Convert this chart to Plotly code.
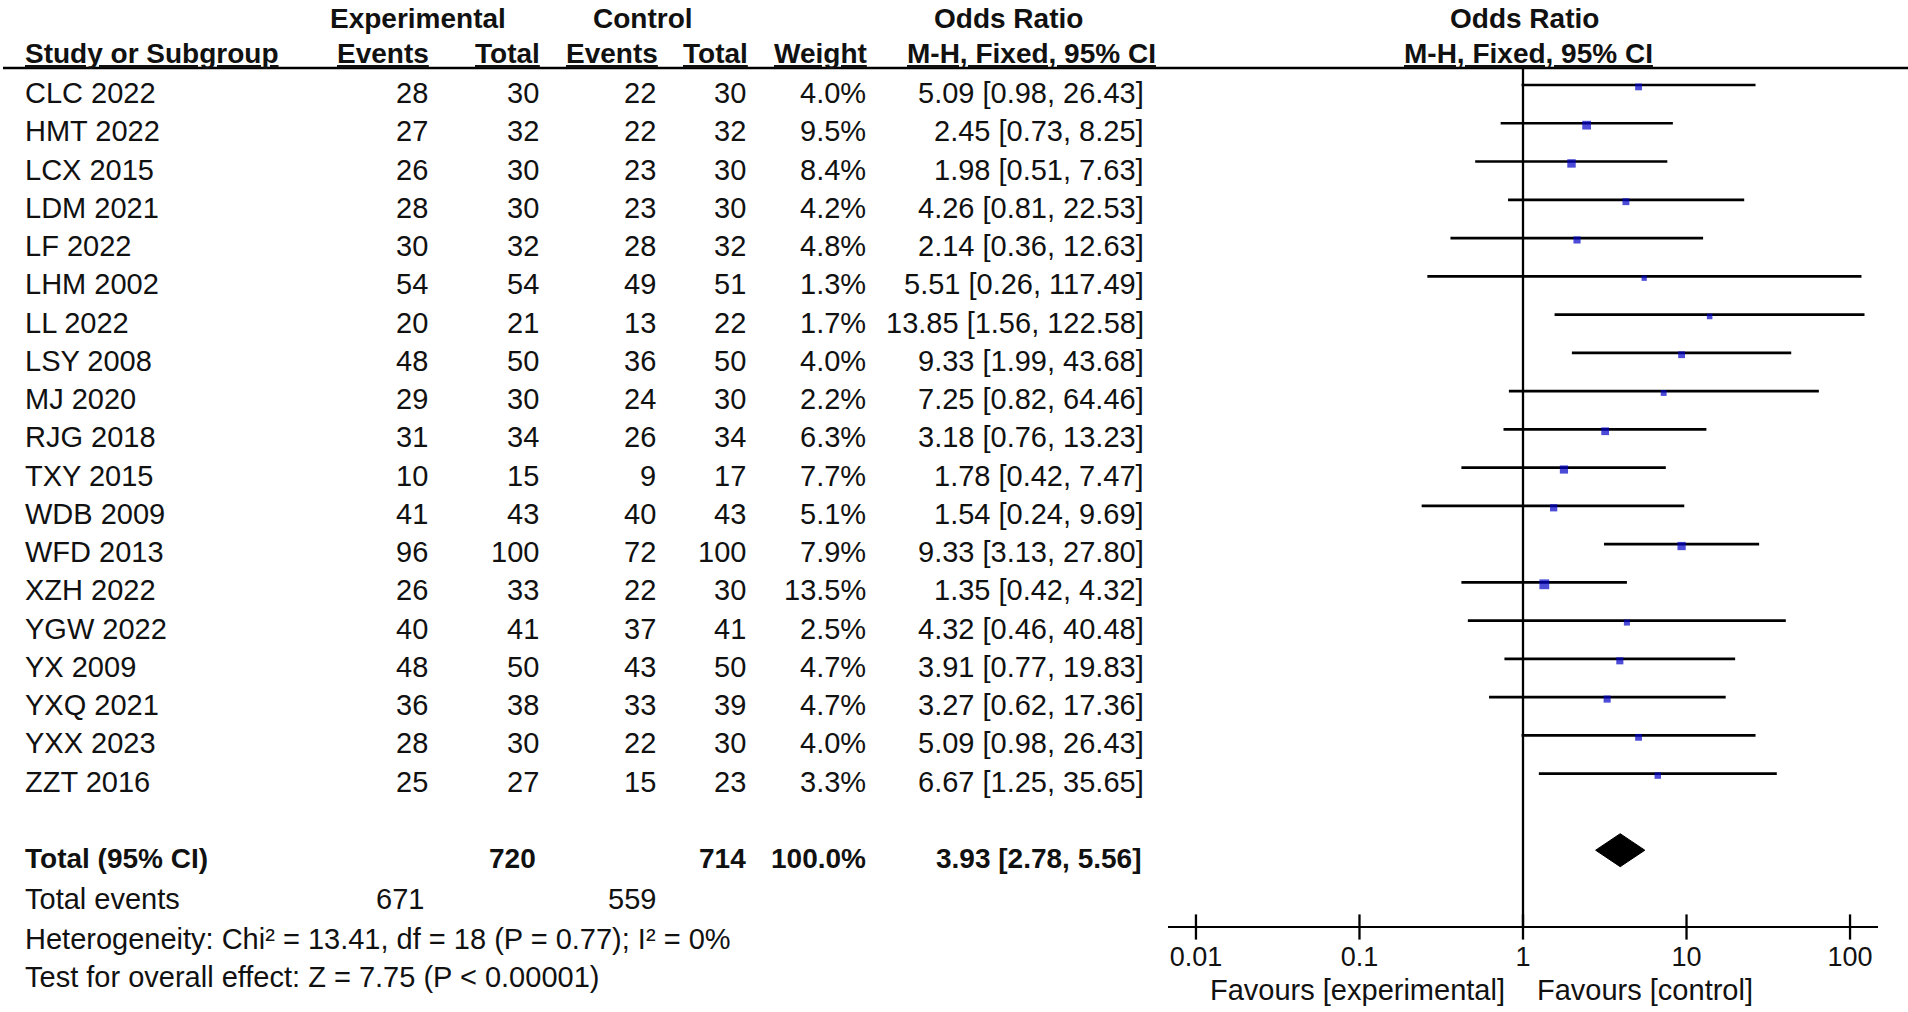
import plotly.graph_objects as go
import math

# ---------------- data ----------------
studies = ["CLC 2022", "HMT 2022", "LCX 2015", "LDM 2021", "LF 2022", "LHM 2002", "LL 2022",
           "LSY 2008", "MJ 2020", "RJG 2018", "TXY 2015", "WDB 2009", "WFD 2013", "XZH 2022",
           "YGW 2022", "YX 2009", "YXQ 2021", "YXX 2023", "ZZT 2016"]
exp_events = [28, 27, 26, 28, 30, 54, 20, 48, 29, 31, 10, 41, 96, 26, 40, 48, 36, 28, 25]
exp_total = [30, 32, 30, 30, 32, 54, 21, 50, 30, 34, 15, 43, 100, 33, 41, 50, 38, 30, 27]
ctrl_events = [22, 22, 23, 23, 28, 49, 13, 36, 24, 26, 9, 40, 72, 22, 37, 43, 33, 22, 15]
ctrl_total = [30, 32, 30, 30, 32, 51, 22, 50, 30, 34, 17, 43, 100, 30, 41, 50, 39, 30, 23]
weights = [4.0, 9.5, 8.4, 4.2, 4.8, 1.3, 1.7, 4.0, 2.2, 6.3, 7.7, 5.1, 7.9, 13.5, 2.5, 4.7, 4.7, 4.0, 3.3]
odds = [5.09, 2.45, 1.98, 4.26, 2.14, 5.51, 13.85, 9.33, 7.25, 3.18, 1.78, 1.54, 9.33, 1.35, 4.32,
        3.91, 3.27, 5.09, 6.67]
ci_low = [0.98, 0.73, 0.51, 0.81, 0.36, 0.26, 1.56, 1.99, 0.82, 0.76, 0.42, 0.24, 3.13, 0.42, 0.46,
          0.77, 0.62, 0.98, 1.25]
ci_high = [26.43, 8.25, 7.63, 22.53, 12.63, 117.49, 122.58, 43.68, 64.46, 13.23, 7.47, 9.69, 27.80,
           4.32, 40.48, 19.83, 17.36, 26.43, 35.65]

total_exp = 720
total_ctrl = 714
total_weight = 100.0
total_or = 3.93
total_low = 2.78
total_high = 5.56
total_exp_events = 671
total_ctrl_events = 559
heterogeneity = "Heterogeneity: Chi² = 13.41, df = 18 (P = 0.77); I² = 0%"
overall = "Test for overall effect: Z = 7.75 (P < 0.00001)"
tick_vals = [0.01, 0.1, 1, 10, 100]
tick_text = ["0.01", "0.1", "1", "10", "100"]
favours_left = "Favours [experimental]"
favours_right = "Favours [control]"

# ---------------- layout helpers ----------------
W, H = 1908, 1012
ROW0, ROWH = 85.0, 38.26
FONT = "Liberation Sans, Arial, Helvetica, sans-serif"
FS = 29
FSB = 28


def ypx(p):
    return (p - ROW0) / ROWH


def xp(p):
    return p / W


n = len(studies)
TOTAL_ROW = n + 1  # diamond row
AXIS_ROW = ypx(927)
HEAD_LINE = ypx(68)
TXT = 8.0 / ROWH

annotations = []


def ann(text, xpix, yrow, anchor="right", bold=False, under=False):
    t = text
    if under:
        t = "<u>" + t + "</u>"
    if bold:
        t = "<b>" + t + "</b>"
    annotations.append(dict(text=t, x=xp(xpix), y=yrow, xref="paper", yref="y",
                            xanchor=anchor, yanchor="middle", showarrow=False,
                            borderpad=0, borderwidth=0,
                            font=dict(family=FONT, size=FSB if bold else FS, color="#111111")))


# headers
hr1 = ypx(18)
hr2 = ypx(53)
ann("Experimental", 418, hr1, "center", bold=True)
ann("Control", 643, hr1, "center", bold=True)
ann("Odds Ratio", 1008, hr1, "center", bold=True)
ann("Odds Ratio", 1524, hr1, "center", bold=True)
ann("Study or Subgroup", 25, hr2, "left", bold=True, under=True)
ann("Events", 429, hr2, "right", bold=True, under=True)
ann("Total", 540, hr2, "right", bold=True, under=True)
ann("Events", 658, hr2, "right", bold=True, under=True)
ann("Total", 748, hr2, "right", bold=True, under=True)
ann("Weight", 867, hr2, "right", bold=True, under=True)
ann("M-H, Fixed, 95% CI", 1031, hr2, "center", bold=True, under=True)
ann("M-H, Fixed, 95% CI", 1528, hr2, "center", bold=True, under=True)

COLS = [428, 539, 656, 746, 866, 1144]
for i in range(n):
    y = i + TXT
    ann(studies[i], 25, y, "left")
    ann(str(exp_events[i]), COLS[0], y)
    ann(str(exp_total[i]), COLS[1], y)
    ann(str(ctrl_events[i]), COLS[2], y)
    ann(str(ctrl_total[i]), COLS[3], y)
    ann(f"{weights[i]:.1f}%", COLS[4], y)
    ann(f"{odds[i]:.2f} [{ci_low[i]:.2f}, {ci_high[i]:.2f}]", COLS[5], y)

yt = ypx(858.5)
ann("Total (95% CI)", 25, yt, "left", bold=True)
ann(str(total_exp), COLS[1] - 3, yt, bold=True)
ann(str(total_ctrl), COLS[3], yt, bold=True)
ann(f"{total_weight:.1f}%", COLS[4], yt, bold=True)
ann(f"{total_or:.2f} [{total_low:.2f}, {total_high:.2f}]", COLS[5] - 3, yt, bold=True)

ye = ypx(899)
ann("Total events", 25, ye, "left")
ann(str(total_exp_events), COLS[0] - 4, ye)
ann(str(total_ctrl_events), COLS[2], ye)
ann(heterogeneity, 25, ypx(938.5), "left")
ann(overall, 25, ypx(977), "left")

ann(favours_left, 1505, ypx(990), "right")
ann(favours_right, 1537, ypx(990), "left")

fig = go.Figure()

# CI lines
cx, cy = [], []
for i in range(n):
    cx += [ci_low[i], ci_high[i], None]
    cy += [i, i, None]
fig.add_trace(go.Scatter(x=cx, y=cy, mode="lines", line=dict(color="black", width=2.7),
                         hoverinfo="skip", showlegend=False))

# vertical line of no effect
fig.add_trace(go.Scatter(x=[1, 1], y=[HEAD_LINE, AXIS_ROW], mode="lines",
                         line=dict(color="black", width=2.3), hoverinfo="skip", showlegend=False))

# squares
fig.add_trace(go.Scatter(x=odds, y=[i + 0.05 for i in range(n)], mode="markers",
                         marker=dict(symbol="square", color="#0000C8",
                                     size=[3.2 + 1.8 * math.sqrt(w) for w in weights],
                                     line=dict(width=0)),
                         hoverinfo="skip", showlegend=False))

# diamond
dh = 16.5 / ROWH
fig.add_trace(go.Scatter(x=[total_low, total_or, total_high, total_or, total_low],
                         y=[TOTAL_ROW, TOTAL_ROW - dh, TOTAL_ROW, TOTAL_ROW + dh, TOTAL_ROW],
                         mode="lines", fill="toself", fillcolor="black",
                         line=dict(color="black", width=1), hoverinfo="skip", showlegend=False))

# crossing tick marks
fig.add_trace(go.Scatter(x=tick_vals, y=[AXIS_ROW] * len(tick_vals), mode="markers",
                         marker=dict(symbol="line-ns-open", size=18, color="black",
                                     line=dict(width=2.3, color="black")),
                         hoverinfo="skip", showlegend=False))

LOG_HALF = 2.171
fig.update_layout(
    width=W, height=H, margin=dict(l=0, r=0, t=0, b=0),
    paper_bgcolor="white", plot_bgcolor="white",
    showlegend=False,
    xaxis=dict(type="log", domain=[1168 / W, 1878 / W], range=[-LOG_HALF, LOG_HALF],
               anchor="free", position=1 - 927 / H,
               showline=True, linecolor="black", linewidth=2.4,
               ticks="", tickvals=tick_vals, ticktext=tick_text, ticklabelstandoff=5,
               tickfont=dict(family=FONT, size=27, color="#111111"),
               showgrid=False, zeroline=False, fixedrange=True),
    yaxis=dict(range=[ypx(H), ypx(0)], domain=[0, 1], visible=False, fixedrange=True),
    annotations=annotations,
    shapes=[dict(type="line", xref="paper", yref="y", x0=xp(3), x1=1.0, y0=HEAD_LINE, y1=HEAD_LINE,
                 line=dict(color="black", width=2.6))],
)

fig.write_html("out.html", config={"displayModeBar": False},
               post_script="document.body.style.margin='0';document.body.style.overflow='hidden';")
